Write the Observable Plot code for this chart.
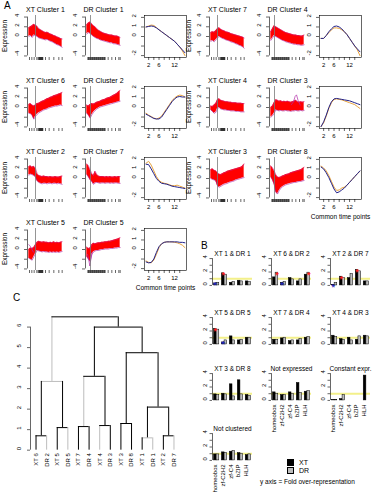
<!DOCTYPE html>
<html><head><meta charset="utf-8">
<script src="https://cdn.jsdelivr.net/npm/d3@7"></script>
<script src="https://cdn.jsdelivr.net/npm/@observablehq/plot@0.6"></script>
<style>
body{margin:0;background:#fff;}
#root{position:relative;width:376px;height:499px;overflow:hidden;background:#fff;font-family:"Liberation Sans",Arial,Helvetica,sans-serif;color:#000;}
.t{position:absolute;line-height:1;white-space:nowrap;}
</style>
</head><body><div id="root"></div>
<script>
// ---------- DATA ----------
const envX = [0,5,10,15,20,25,30,35,40,45,50,55,60,65,70,75,80,85,90,95,100];
const xtRug = [2,9,16,24,28,30,32,33,35,36,38,39,41,42,50,61,75,90,100];
const drRug = [3,5,7,9,11,13,15,17,19,21,23,25,27,29,31,33,35,37,39,41,43,45,47,49,51,53,55,64,75,86,96,100];
const xtMarker = 20, drMarker = 11;

const xt1Up=[1.8,2.0,2.2,2.5,2.3,2.1,1.6,1.4,1.2,1.0,0.8,0.9,0.7,0.5,0.4,0.2,0.1,-0.1,-0.2,-0.4,-0.5];
const xt1Lo=[0.0,0.2,-0.2,0.3,0.2,0.0,-0.3,-0.4,-0.5,-0.6,-0.7,-0.6,-0.8,-1.0,-1.1,-1.3,-1.5,-1.7,-1.8,-2.0,-2.2];
const dr1Up=[2.4,2.8,3.0,2.6,2.2,2.0,1.6,1.3,1.1,0.9,0.7,0.6,0.5,0.4,0.3,0.3,0.2,0.1,0.1,0.0,-0.2];
const dr1Lo=[0.5,0.8,0.6,0.3,0.0,-0.2,-0.4,-0.5,-0.7,-0.8,-0.9,-1.0,-1.1,-1.2,-1.3,-1.3,-1.5,-1.5,-1.6,-1.7,-1.8];
const xt6Up=[0.6,0.8,0.5,0.3,0.5,0.8,0.9,1.1,1.3,1.4,1.6,1.8,1.9,2.1,2.2,2.4,2.5,2.6,2.8,2.9,3.1];
const xt6Lo=[-1.2,-1.3,-1.6,-2.4,-1.8,-1.4,-1.1,-0.9,-0.7,-0.5,-0.4,-0.3,-0.1,0.0,0.1,0.2,0.3,0.3,0.4,0.5,0.4];
const dr2Up=[0.5,0.3,0.6,0.8,0.7,0.9,1.1,1.2,1.3,1.5,1.6,1.7,1.9,2.0,2.1,2.3,2.5,2.7,2.9,3.2,3.5];
const dr2Lo=[-1.2,-1.6,-2.2,-1.5,-1.0,-0.6,-0.3,-0.1,0.1,0.2,0.3,0.4,0.5,0.6,0.7,0.8,0.9,1.0,1.1,1.2,1.3];
const xt2Up=[2.4,2.6,2.3,2.5,2.1,1.0,0.6,0.5,0.4,0.5,0.4,0.4,0.3,0.4,0.3,0.3,0.4,0.3,0.3,0.4,0.5];
const xt2Lo=[0.7,0.9,0.8,0.6,0.3,-0.5,-0.8,-1.0,-1.1,-1.0,-1.0,-1.1,-1.0,-1.0,-1.1,-1.0,-1.0,-1.1,-1.0,-1.1,-1.2];
const dr7Up=[3.0,2.6,1.8,1.0,0.6,1.5,0.8,0.5,0.4,0.4,0.4,0.3,0.4,0.3,0.4,0.3,0.3,0.4,0.3,0.4,0.4];
const dr7Lo=[0.8,0.3,-0.3,-0.6,-1.2,-0.9,-0.8,-0.9,-1.0,-0.9,-0.9,-1.0,-0.9,-0.9,-1.0,-0.9,-1.0,-0.9,-0.9,-1.0,-1.0];
const xt5Up=[0.0,0.3,0.2,0.4,1.0,1.5,1.7,1.6,1.5,1.6,1.5,1.5,1.4,1.5,1.4,1.6,1.4,1.5,1.4,1.5,1.6];
const xt5Lo=[-1.8,-2.0,-2.2,-1.5,-0.8,-0.2,-0.3,-0.4,-0.5,-0.4,-0.5,-0.5,-0.6,-0.5,-0.6,-0.5,-0.6,-0.5,-0.6,-0.5,-0.4];
const dr5Up=[0.5,0.2,0.3,1.0,1.3,1.2,1.3,1.4,1.4,1.5,1.5,1.6,1.6,1.7,1.7,1.8,1.9,2.0,2.1,2.2,2.4];
const dr5Lo=[-1.5,-2.0,-2.5,-1.0,-0.5,-0.3,-0.2,-0.2,-0.1,0.0,0.0,0.1,0.1,0.1,0.2,0.2,0.2,0.3,0.3,0.4,0.4];
const xt7Up=[0.8,1.0,0.9,1.2,1.6,1.8,1.5,1.3,1.2,1.0,0.9,0.8,0.6,0.5,0.4,0.3,0.2,0.1,0.0,-0.1,-0.3];
const xt7Lo=[-1.0,-0.8,-1.1,-0.7,-0.3,0.0,-0.2,-0.4,-0.5,-0.7,-0.8,-0.9,-1.1,-1.2,-1.3,-1.5,-1.6,-1.8,-1.9,-2.1,-2.4];
const dr4Up=[1.0,1.6,2.2,2.0,1.8,1.6,1.4,1.2,1.0,0.8,0.7,0.6,0.5,0.4,0.3,0.3,0.2,0.2,0.1,0.1,0.3];
const dr4Lo=[-0.8,-0.3,0.2,0.0,-0.2,-0.4,-0.6,-0.8,-0.9,-1.1,-1.2,-1.3,-1.4,-1.5,-1.6,-1.6,-1.7,-1.7,-1.8,-1.8,-1.7];
const xt4Up=[0.3,0.2,0.5,0.8,1.6,1.8,1.5,1.4,1.3,1.2,1.2,1.1,1.1,1.0,1.0,1.0,0.9,0.9,0.9,0.8,0.8];
const xt4Lo=[-0.5,-0.8,-1.2,-1.0,-0.2,0.0,-0.3,-0.4,-0.5,-0.5,-0.6,-0.6,-0.7,-0.7,-0.7,-0.8,-0.8,-0.8,-0.9,-0.9,-0.9];
const dr3Up=[0.0,0.3,1.0,1.6,1.5,1.3,1.4,1.2,1.3,1.2,1.3,1.2,1.1,1.2,1.3,1.5,1.2,1.1,1.2,1.1,1.2];
const dr3Lo=[-2.0,-1.7,-1.2,-0.5,-0.6,-0.7,-0.6,-0.7,-0.7,-0.6,-0.7,-0.7,-0.8,-0.7,-0.7,-0.6,-0.7,-0.7,-0.6,-0.7,-0.6];
const xt3Up=[1.8,2.0,1.7,1.6,1.2,0.9,0.8,1.0,1.2,1.3,1.5,1.6,1.7,1.8,1.9,2.0,2.1,2.2,2.3,2.5,3.0];
const xt3Lo=[0.0,-0.2,-0.3,-0.5,-1.5,-1.8,-1.6,-1.4,-1.2,-1.1,-1.0,-0.8,-0.7,-0.6,-0.5,-0.3,-0.2,-0.1,0.0,0.1,0.2];
const dr8Up=[2.6,2.2,1.6,0.8,0.3,0.2,0.3,0.5,0.6,0.8,0.9,1.0,1.2,1.3,1.4,1.5,1.6,1.7,1.8,2.0,2.3];
const dr8Lo=[0.3,-0.3,-1.2,-2.8,-3.2,-2.5,-2.0,-1.7,-1.5,-1.3,-1.2,-1.1,-1.0,-0.9,-0.8,-0.8,-0.7,-0.6,-0.6,-0.5,-0.4];
const dr3SpikeX=[62,68,73,77,82,88], dr3SpikeY=[0.6,1.2,2.3,2.6,1.4,0.5];
const dr5DipX=[2,6,9,12,16], dr5DipY=[-1.0,-2.2,-3.4,-2.0,-0.6];
const xt5LineX=[0,4,8,12,16], xt5LineY=[1.0,0.7,0.2,-0.4,-0.6];

const time = [1,2,3,4,5,6,7,8,9,10,11,12,13,14,15,16];
const p1XT=[1.0,1.05,1.1,1.05,0.9,0.7,0.5,0.3,0.1,-0.1,-0.3,-0.5,-0.8,-1.1,-1.4,-1.7];
const p1DR=[1.0,1.1,1.2,1.15,0.95,0.7,0.5,0.3,0.1,-0.1,-0.3,-0.5,-0.8,-1.1,-1.5,-2.0];
const p2XT=[-0.7,-0.85,-1.0,-1.15,-1.2,-1.2,-1.0,-0.6,-0.2,0.2,0.6,0.9,1.1,1.15,1.1,1.1];
const p2DR=[-0.6,-0.8,-0.95,-1.1,-1.2,-1.1,-0.9,-0.5,-0.1,0.3,0.7,1.0,1.2,1.3,1.25,1.1];
const p3XT=[1.5,1.45,1.0,0.5,0.0,-0.3,-0.5,-0.55,-0.6,-0.7,-0.8,-0.85,-0.9,-0.95,-1.0,-1.05];
const p3DR=[1.6,1.8,1.4,0.8,0.2,-0.2,-0.4,-0.5,-0.55,-0.65,-0.75,-0.75,-0.7,-0.8,-0.9,-1.0];
const p4XT=[-1.3,-1.4,-1.35,-1.0,-0.3,0.3,0.6,0.75,0.8,0.8,0.8,0.8,0.8,0.75,0.75,0.7];
const p4DR=[-1.2,-1.35,-1.4,-1.1,-0.5,0.2,0.6,0.75,0.8,0.8,0.8,0.75,0.7,0.6,0.45,0.2];
const p5XT=[-0.2,-0.2,0.1,0.5,0.8,1.05,1.1,1.0,0.8,0.5,0.2,-0.2,-0.6,-1.0,-1.3,-1.6];
const p5DR=[-0.2,-0.2,0.1,0.4,0.7,0.9,0.9,0.85,0.7,0.5,0.2,-0.2,-0.6,-1.0,-1.4,-2.0];
const p6XT=[-2.0,-1.5,-0.8,0.0,0.6,0.9,0.95,0.9,0.85,0.8,0.75,0.7,0.6,0.5,0.4,0.3];
const p6DR=[-2.0,-1.6,-0.9,-0.1,0.5,0.85,0.9,0.85,0.8,0.7,0.6,0.5,0.4,0.3,0.1,-0.1];
const p7XT=[1.2,1.0,0.6,0.1,-0.5,-1.1,-1.5,-1.4,-1.2,-1.0,-0.7,-0.4,-0.1,0.2,0.5,0.8];
const p7DR=[1.3,1.1,0.8,0.3,-0.3,-0.9,-1.25,-1.2,-1.0,-0.9,-0.7,-0.4,-0.1,0.2,0.5,0.75];
const profileTicks=[2,4,6,8,10,12,14];
const profileLabels=[2,6,12];

const families = ["homeobox","zf-C2H2","zf-C4","bZIP","HLH"];
const barTitles = ["XT 1 & DR 1","XT 6 & DR 2","XT 2 & DR 7","XT 5 & DR 5","XT 7 & DR 4","XT 4 & DR 3","XT 3 & DR 8","Not expressed","Constant expr.","Not clustered"];
const xtFold = [
 [0.3,1.8,0.4,0.7,0.6],[1.2,0.4,1.1,0.6,1.6],[0.1,1.3,1.1,2.3,0.6],[2.3,0.3,1.2,0.6,1.0],[0.7,0.9,0.5,0.6,1.0],
 [1.3,0.8,1.0,0.7,1.3],[0.9,1.0,2.4,3.0,0.8],[1.2,0.8,1.2,2.6,1.3],[0.05,0.2,0.0,0.0,3.7],[0.9,1.2,1.3,1.1,0.8]];
const drFold = [
 [0.4,1.6,0.5,0.6,0.5],[1.9,0.5,0.9,0.9,1.9],[0.4,1.1,1.7,2.1,0.6],[2.2,0.6,0.6,0.7,1.0],[0.7,1.0,0.6,0.8,1.1],
 [1.1,0.7,0.6,1.2,1.2],[0.8,0.9,0.6,0.9,0.7],[1.0,0.8,1.0,1.1,1.4],[0.1,0.8,0.0,0.0,0.0],[0.9,1.1,1.4,1.0,0.9]];
const overStars = [[0,1,0],[1,0,1],[1,4,1],[2,1,0],[2,3,0],[3,0,0]];
const underStars = [[0,0,0],[1,1,0],[2,0,0],[3,1,0]];

const leaves = ["XT 6","DR 2","XT 5","DR 5","XT 7","DR 4","XT 4","DR 3","XT 3","DR 8","XT 1","DR 1","XT 2","DR 7"];
const mergeId    = ["m1","m2","m3","m4","m5","m6","m7","m8","m9","m10","m11","m12","m13"];
const mergeLeft  = ["XT 1","XT 6","XT 2","XT 5","XT 7","XT 4","XT 3","m1","m2","m5","m7","m10","m9"];
const mergeRight = ["DR 1","DR 2","DR 7","DR 5","DR 4","DR 3","DR 8","m3","m4","m6","m8","m11","m12"];
const mergeHeight= [0.6,0.7,0.7,1.1,1.15,1.2,1.3,2.1,3.35,3.6,4.75,6.0,6.5];
const mergeTone  = ["g","k","k","k","k","k","k","k","g","k","k","k","k"];
const edgeTone = {"XT 6":"k","DR 2":"g","XT 5":"k","DR 5":"g","XT 7":"k","DR 4":"k","XT 4":"g","DR 3":"k","XT 3":"k","DR 8":"k","XT 1":"k","DR 1":"g","XT 2":"k","DR 7":"g",
  m1:"k",m2:"k",m3:"k",m4:"k",m5:"g",m6:"k",m7:"k",m8:"k",m9:"g",m10:"k",m11:"k",m12:"k"};

// ---------- LAYOUT ----------
const root = document.getElementById("root");
const FONT = "'Liberation Sans', Arial, Helvetica, sans-serif";
const STYLE = {background:"transparent", overflow:"visible", fontFamily:FONT};
function put(svg, left, top){ svg.style.position="absolute"; svg.style.left=left+"px"; svg.style.top=top+"px"; svg.style.maxWidth="none"; root.appendChild(svg); }
function txt(s, left, top, size, extra){ const d=document.createElement("div"); d.className="t"; d.textContent=s; d.style.left=left+"px"; d.style.top=top+"px"; d.style.fontSize=size+"px"; if(extra) Object.assign(d.style, extra); root.appendChild(d); return d; }
function vtxt(s, cx, cy, size){ txt(s, cx, cy, size, {transform:"translate(-50%,-50%) rotate(-90deg)", transformOrigin:"center"}); }

const rowTop = [15, 86, 157, 228];
const leftCols = {xt:27, dr:85, box:144};
const rightCols = {xt:209, dr:269, box:319};

function redPlot(title, up, lo, kind, fx, fy, extra){
  const W=36, H=42, mL=18, mR=2, mT=13, mB=6;
  const band = envX.map((x,i)=>({x, lo:lo[i], up:up[i]}));
  const isXT = kind==="XT";
  const marks = [
    Plot.areaY(band, {x:"x", y1:"lo", y2:"up", fill:"#ff0000"}),
    Plot.lineY(band, {x:"x", y:"up", stroke:"#d0208c", strokeWidth:0.6}),
    Plot.lineY(band, {x:"x", y:"lo", stroke:"#a8189a", strokeWidth:0.6})
  ];
  if (extra) marks.push(Plot.line(extra.x.map((x,i)=>({x, y:extra.y[i]})), {x:"x", y:"y", stroke:"#b02aa8", strokeWidth:0.7}));
  marks.push(
    Plot.ruleX([isXT?xtMarker:drMarker], {stroke:"#7a7a7a", strokeWidth:0.8}),
    Plot.ruleX([-4], {y1:-4, y2:4, stroke:"#000", strokeWidth:0.6}),
    Plot.axisY({ticks:[-4,-2,0,2,4], tickSize:3, tickFormat:()=>"", label:null, strokeWidth:0.6}),
    Plot.text([-4,0,2,4], {y:d=>d, frameAnchor:"left", text:d=>String(d), rotate:-90, dx:-10, fontSize:6}),
    Plot.axisX({ticks:isXT?xtRug:drRug, tickSize:3, tickFormat:()=>"", label:null, strokeWidth:0.6}),
    Plot.text([title], {frameAnchor:"top", text:d=>d, dy:-8, fontSize:7})
  );
  const svg = Plot.plot({width:mL+W+mR, height:mT+H+mB, marginLeft:mL, marginRight:mR, marginTop:mT, marginBottom:mB,
    style:STYLE, x:{domain:[-4,104], axis:null}, y:{domain:[-4.32,4.32], axis:null}, marks});
  put(svg, fx-mL, fy-mT);
}

function boxPlot(xtv, drv, fx, fy, showLabel){
  const W=42, H=42, mL=18, mR=2, mT=2, mB=showLabel?24:14;
  const rows = time.map((t,i)=>({t, xt:xtv[i], dr:drv[i]}));
  const marks = [
    Plot.lineY(rows, {x:"t", y:"dr", stroke:"#e8a33d", strokeWidth:1}),
    Plot.lineY(rows, {x:"t", y:"xt", stroke:"#22228a", strokeWidth:1}),
    Plot.frame({stroke:"#000", strokeWidth:0.6}),
    Plot.axisY({ticks:[-2,-1,0,1,2], tickSize:3, tickFormat:()=>"", label:null, strokeWidth:0.6}),
    Plot.text([-2,0,1,2], {y:d=>d, frameAnchor:"left", text:d=>String(d), rotate:-90, dx:-10, fontSize:6}),
    Plot.axisX({ticks:profileTicks, tickSize:3, tickFormat:()=>"", label:null, strokeWidth:0.6}),
    Plot.text(profileLabels, {x:d=>d, frameAnchor:"bottom", text:d=>String(d), dy:9, fontSize:6})
  ];
  if (showLabel) marks.push(Plot.text(["Common time points"], {frameAnchor:"bottom", text:d=>d, dy:19, fontSize:6.5}));
  const svg = Plot.plot({width:mL+W+mR, height:mT+H+mB, marginLeft:mL, marginRight:mR, marginTop:mT, marginBottom:mB,
    style:STYLE, x:{domain:[0.4,16.6], axis:null}, y:{domain:[-2.2,2.2], axis:null}, marks});
  put(svg, fx-mL, fy-mT);
}

// Panel A
const leftRows = [
  ["XT Cluster 1", xt1Up, xt1Lo, "DR Cluster 1", dr1Up, dr1Lo, p1XT, p1DR],
  ["XT Cluster 6", xt6Up, xt6Lo, "DR Cluster 2", dr2Up, dr2Lo, p2XT, p2DR],
  ["XT Cluster 2", xt2Up, xt2Lo, "DR Cluster 7", dr7Up, dr7Lo, p3XT, p3DR],
  ["XT Cluster 5", xt5Up, xt5Lo, "DR Cluster 5", dr5Up, dr5Lo, p4XT, p4DR]
];
const rightRows = [
  ["XT Cluster 7", xt7Up, xt7Lo, "DR Cluster 4", dr4Up, dr4Lo, p5XT, p5DR],
  ["XT Cluster 4", xt4Up, xt4Lo, "DR Cluster 3", dr3Up, dr3Lo, p6XT, p6DR],
  ["XT Cluster 3", xt3Up, xt3Lo, "DR Cluster 8", dr8Up, dr8Lo, p7XT, p7DR]
];
const extras = {"DR Cluster 3":{x:dr3SpikeX,y:dr3SpikeY}, "DR Cluster 5":{x:dr5DipX,y:dr5DipY}, "XT Cluster 5":{x:xt5LineX,y:xt5LineY}};
leftRows.forEach((r,i)=>{
  redPlot(r[0], r[1], r[2], "XT", leftCols.xt, rowTop[i], extras[r[0]]);
  redPlot(r[3], r[4], r[5], "DR", leftCols.dr, rowTop[i], extras[r[3]]);
  boxPlot(r[6], r[7], leftCols.box, rowTop[i], i===3);
  vtxt("Expression", 4.5, rowTop[i]+21, 6.5);
});
rightRows.forEach((r,i)=>{
  redPlot(r[0], r[1], r[2], "XT", rightCols.xt, rowTop[i], extras[r[0]]);
  redPlot(r[3], r[4], r[5], "DR", rightCols.dr, rowTop[i], extras[r[3]]);
  boxPlot(r[6], r[7], rightCols.box, rowTop[i], i===2);
  vtxt("Expression", 189, rowTop[i]+21, 6.5);
});

// Panel B
const barColX = [212, 271, 330];
const barRowY = [257, 316, 372, 432];
function barPlot(i, fx, fy, showX){
  const W=40, H=29, mL=12, mR=3, mT=10, mB=showX?44:3;
  const xtRows = families.map((f,g)=>({g, s:0, v:xtFold[i][g]}));
  const drRows = families.map((f,g)=>({g, s:1, v:drFold[i][g]}));
  const val = (g,s)=> s? drFold[i][g] : xtFold[i][g];
  const over = overStars.filter(d=>d[0]===i).map(d=>({g:d[1], s:d[2]}));
  const under = underStars.filter(d=>d[0]===i).map(d=>({g:d[1], s:d[2]}));
  const marks = [
    Plot.ruleY([1], {stroke:"#f3f08a", strokeWidth:2}),
    Plot.rectY(xtRows, {x1:d=>1+d.g*3+d.s, x2:d=>2+d.g*3+d.s, y1:0, y2:"v", fill:"#000", stroke:"#000", strokeWidth:0.5}),
    Plot.rectY(drRows, {x1:d=>1+d.g*3+d.s, x2:d=>2+d.g*3+d.s, y1:0, y2:"v", fill:"#bebebe", stroke:"#000", strokeWidth:0.5}),
    Plot.text(over, {x:d=>1.5+d.g*3+d.s, y:d=>val(d.g,d.s)+0.15, text:()=>"*", fill:"#ff2020", fontSize:9, dy:3, fontWeight:"bold"}),
    Plot.text(under, {x:d=>1.5+d.g*3+d.s, y:d=>val(d.g,d.s)+0.15, text:()=>"*", fill:"#2727b8", fontSize:9, dy:3, fontWeight:"bold"}),
    Plot.ruleX([0.44], {y1:0, y2:4, stroke:"#000", strokeWidth:0.6}),
    Plot.axisY({ticks:[0,1,2,3,4], tickSize:2.5, tickFormat:()=>"", label:null, strokeWidth:0.6}),
    Plot.text([0,2,4], {y:d=>d, frameAnchor:"left", text:d=>String(d), rotate:-90, dx:-7, fontSize:6}),
    Plot.text([barTitles[i]], {frameAnchor:"top", text:d=>d, dy:-6, fontSize:6.5})
  ];
  if (showX) marks.push(Plot.text(families, {x:(d,g)=>2+g*3, frameAnchor:"bottom", text:d=>d, rotate:-90, textAnchor:"end", dy:3, fontSize:6}));
  const svg = Plot.plot({width:mL+W+mR, height:mT+H+mB, marginLeft:mL, marginRight:mR, marginTop:mT, marginBottom:mB,
    style:STYLE, x:{domain:[0.44,15.56], axis:null}, y:{domain:[-0.16,4.16], axis:null}, marks});
  put(svg, fx-mL, fy-mT);
}
for (let i=0;i<10;i++){
  const col = i===9?0:i%3, row = Math.floor(i/3);
  barPlot(i, barColX[col], barRowY[row], i>=7);
}

// Panel C: dendrogram
(function(){
  const nodes = new Map();
  leaves.forEach((l,i)=>nodes.set(l,{x:i+1,y:0}));
  const hSegs=[], vSegs=[];
  mergeId.forEach((id,k)=>{
    const a=mergeLeft[k], b=mergeRight[k], h=mergeHeight[k];
    const A=nodes.get(a), B=nodes.get(b);
    nodes.set(id,{x:(A.x+B.x)/2, y:h});
    hSegs.push({x1:A.x, x2:B.x, y:h, c:mergeTone[k]});
    vSegs.push({x:A.x, y1:A.y, y2:h, c:edgeTone[a]});
    vSegs.push({x:B.x, y1:B.y, y2:h, c:edgeTone[b]});
  });
  const W=149, H=144, mL=22, mR=4, mT=4, mB=26;
  const gray="#bdbdbd";
  const svg = Plot.plot({width:mL+W+mR, height:mT+H+mB, marginLeft:mL, marginRight:mR, marginTop:mT, marginBottom:mB,
    style:STYLE, x:{domain:[0.48,14.52], axis:null}, y:{domain:[-0.26,6.76], axis:null},
    marks:[
      Plot.ruleX(vSegs.filter(d=>d.c==="g"), {x:"x", y1:"y1", y2:"y2", stroke:gray, strokeWidth:1}),
      Plot.ruleY(hSegs.filter(d=>d.c==="g"), {y:"y", x1:"x1", x2:"x2", stroke:gray, strokeWidth:1}),
      Plot.ruleX(vSegs.filter(d=>d.c==="k"), {x:"x", y1:"y1", y2:"y2", stroke:"#000", strokeWidth:1}),
      Plot.ruleY(hSegs.filter(d=>d.c==="k"), {y:"y", x1:"x1", x2:"x2", stroke:"#000", strokeWidth:1}),
      Plot.ruleX([0.48], {y1:0, y2:6, stroke:"#000", strokeWidth:0.6}),
      Plot.axisY({ticks:[0,1,2,3,4,5,6], tickSize:3, tickFormat:()=>"", label:null, strokeWidth:0.6}),
      Plot.text([0,1,2,3,4,5,6], {y:d=>d, frameAnchor:"left", text:d=>String(d), rotate:-90, dx:-11, fontSize:6}),
      Plot.text(leaves, {x:(d,i)=>i+1, y:()=>0, text:d=>d, rotate:-90, textAnchor:"end", dy:3, fontSize:6})
    ]});
  put(svg, 30-mL, 311-mT);
})();

// Legend & panel letters
txt("A", 4, 1, 10);
txt("B", 201, 241, 10);
txt("C", 13, 293, 10);
const lg = document.createElement("div");
lg.className="t"; lg.style.left="287px"; lg.style.top="458px"; lg.style.fontSize="7px";
lg.innerHTML = '<div style="display:flex;align-items:center;height:8px"><span style="display:inline-block;width:5px;height:5px;background:#000;border:0.5px solid #000;margin-right:5px"></span>XT</div>'+
  '<div style="display:flex;align-items:center;height:8px"><span style="display:inline-block;width:5px;height:5px;background:#bebebe;border:0.5px solid #000;margin-right:5px"></span>DR</div>';
root.appendChild(lg);
txt("y axis = Fold over-representation", 260, 479, 6.5);
</script>
</body></html>
